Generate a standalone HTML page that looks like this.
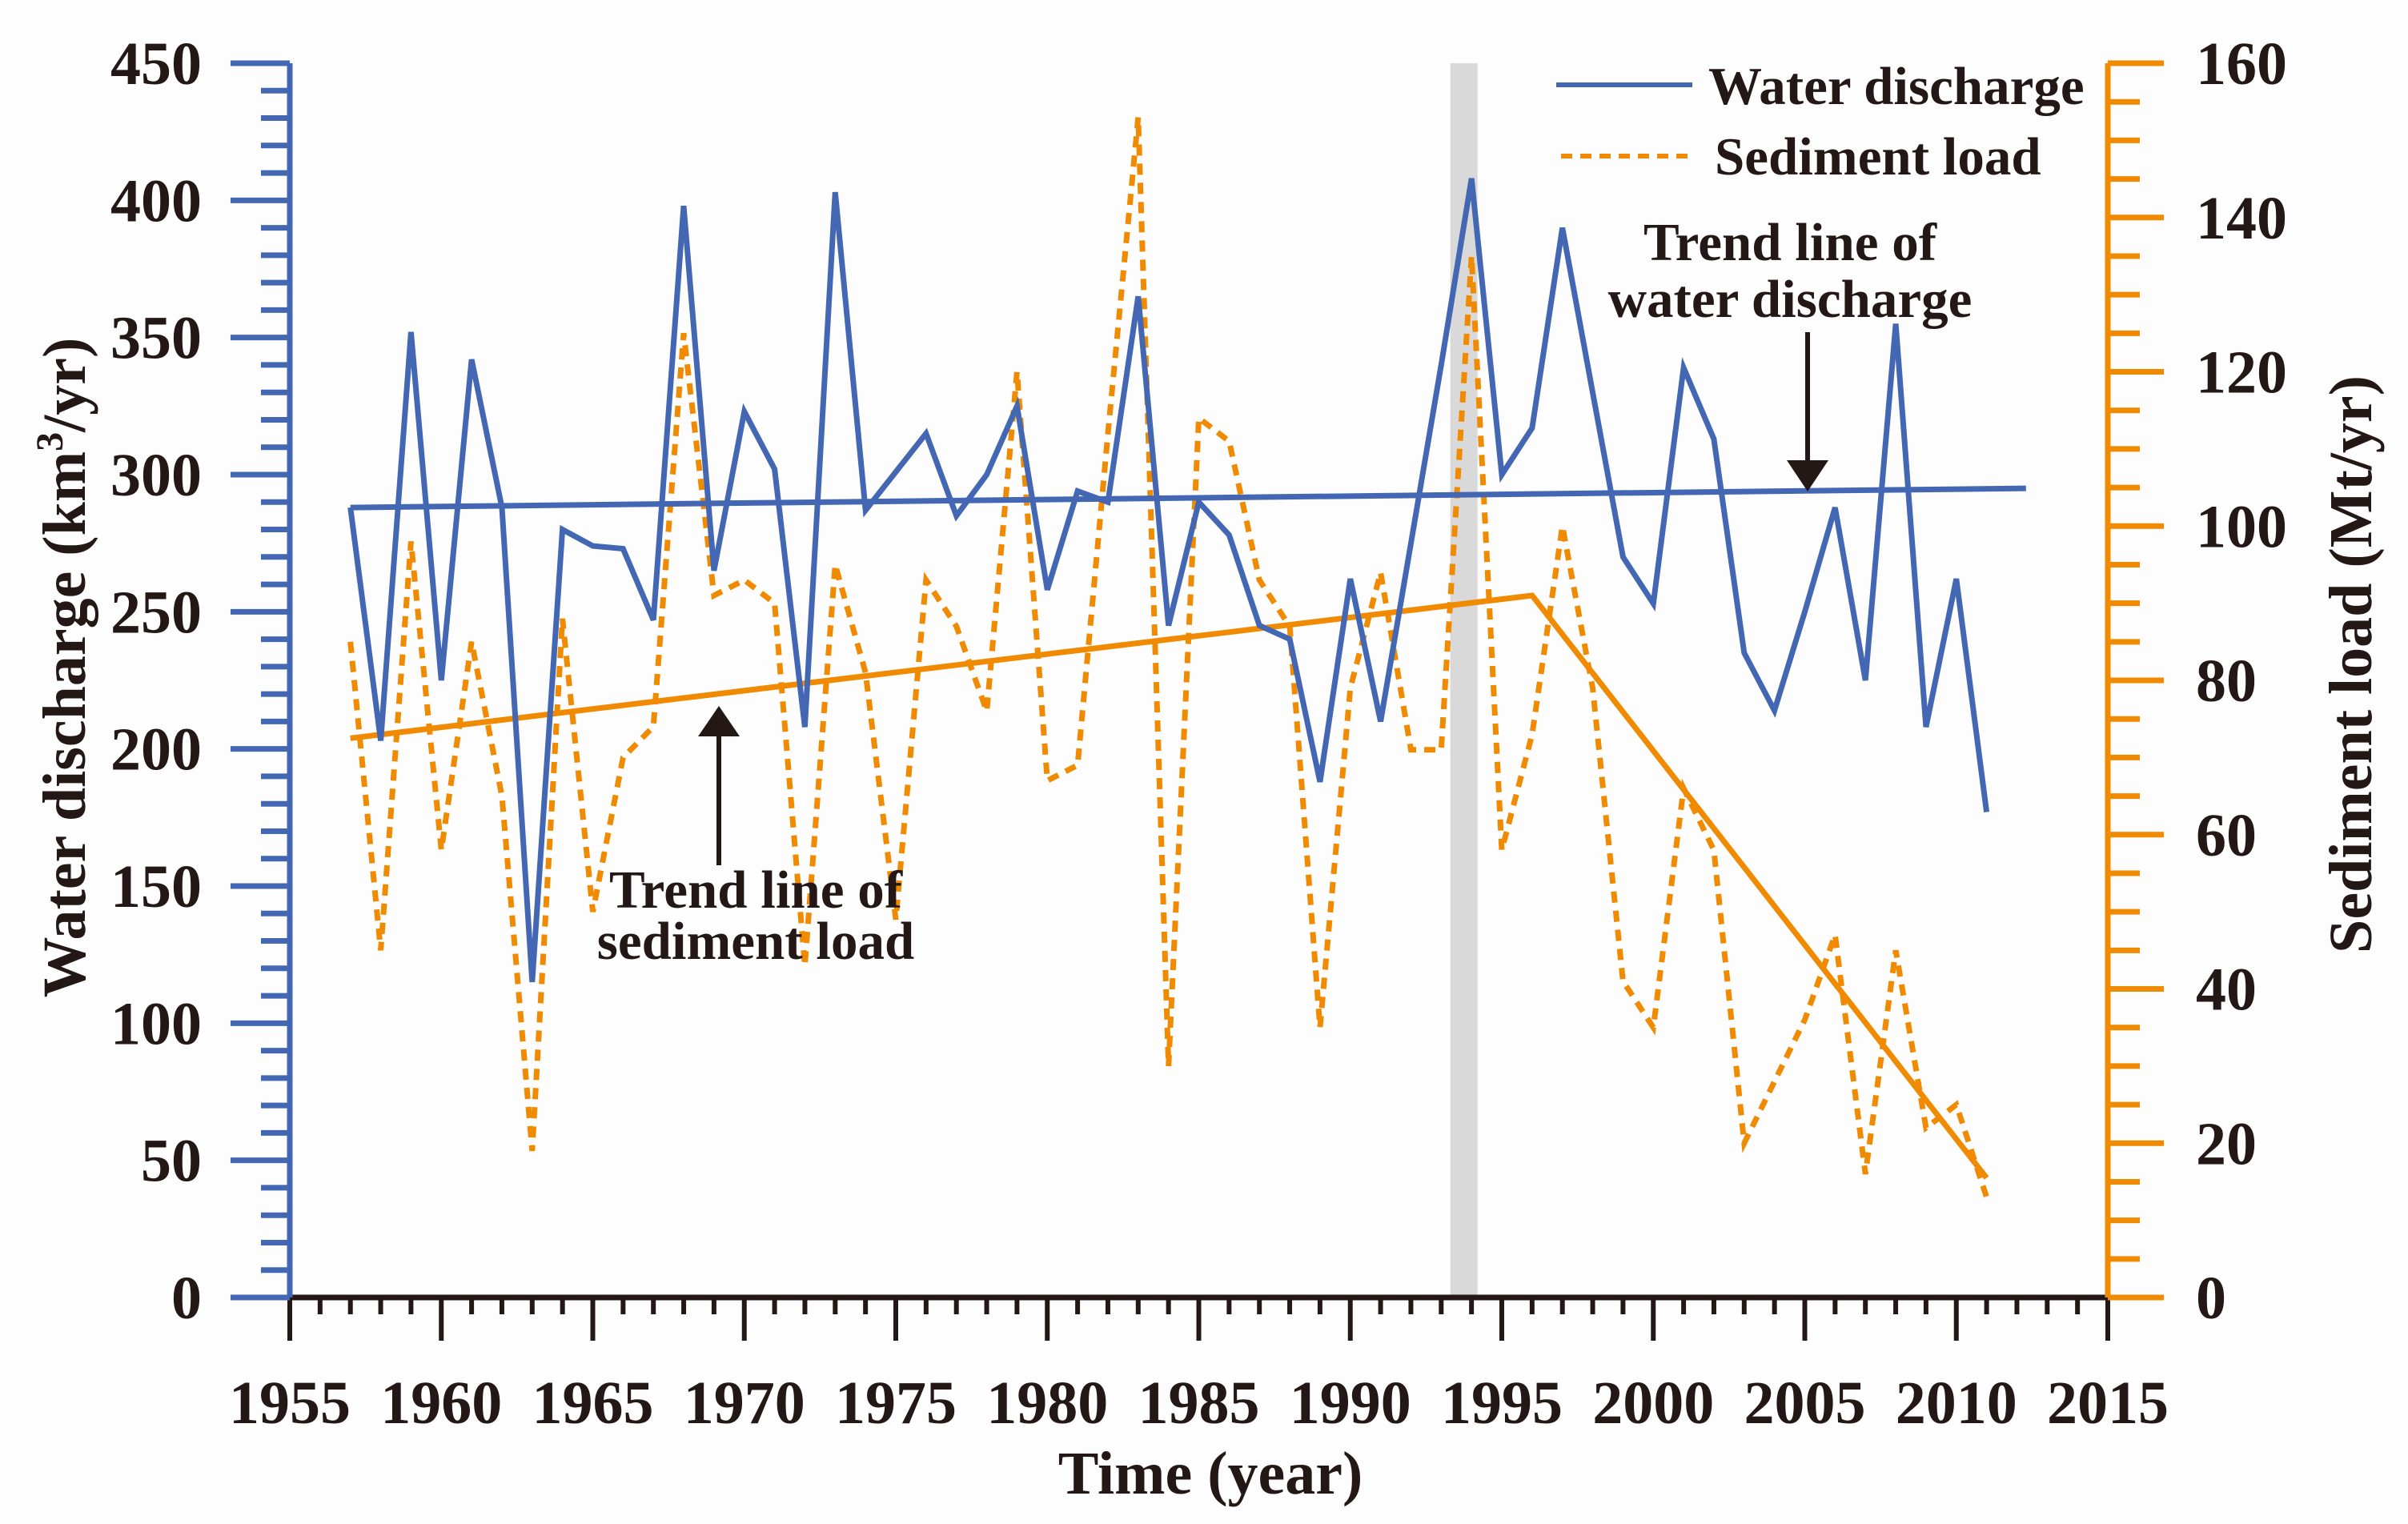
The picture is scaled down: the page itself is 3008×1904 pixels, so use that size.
<!DOCTYPE html>
<html><head><meta charset="utf-8"><style>
html,body{margin:0;padding:0;background:#fdfdfd;}
svg{display:block;}
text{font-family:"Liberation Serif",serif;font-weight:bold;fill:#231815;}
</style></head><body>
<svg id="chart" width="3008" height="1904" viewBox="0 0 3008 1904" xmlns="http://www.w3.org/2000/svg">
<rect width="3008" height="1904" fill="#fdfdfd"/>
<g id="plot"></g>
</svg>
<script>
const years = [1957,1958,1959,1960,1961,1962,1963,1964,1965,1966,1967,1968,1969,1970,1971,1972,1973,1974,1975,1976,1977,1978,1979,1980,1981,1982,1983,1984,1985,1986,1987,1988,1989,1990,1991,1992,1993,1994,1995,1996,1997,1998,1999,2000,2001,2002,2003,2004,2005,2006,2007,2008,2009,2010,2011];
const waterDischarge = [288,203,352,225,342,288,115,280,274,273,247,398,265,323,302,208,403,287,301,315,285,300,325,258,294,290,365,245,290,278,245,240,188,262,210,275,340,408,300,317,390,330,270,253,339,313,235,214,250,288,225,355,208,262,177];
const sedimentLoad = [85,45,98,58,85,65,19,88,50,70,74,125,91,93,90,43,95,81,49,93,87,76,120,67,69,112,153,30,114,111,93,87,35,79,94,71,71,135,58,73,100,79,41,35,66,58,20,28,36,47,16,45,22,25,13];
const waterTrendYears = [1957,2012.3];
const waterTrendValues = [288,295];
const sedTrendYears = [1957,1996,2011];
const sedTrendValues = [72.5,91,15.5];
const leftTicks = [0,50,100,150,200,250,300,350,400,450];
const rightTicks = [0,20,40,60,80,100,120,140,160];
const xTicks = [1955,1960,1965,1970,1975,1980,1985,1990,1995,2000,2005,2010,2015];
const bandYears = [1993.3,1994.2];

const X0=362,X1=2633,Y0=1621,YT=79;
const BLUE="#4467b4",ORANGE="#f08a00",INK="#231815";
const xs=y=>X0+(y-1955)/60*(X1-X0);
const yl=v=>Y0-v/450*(Y0-YT);
const yr=v=>Y0-v/160*(Y0-YT);
const NS="http://www.w3.org/2000/svg";
const g=document.getElementById('plot');
function mk(tag,attrs,parent){const e=document.createElementNS(NS,tag);for(const k in attrs)e.setAttribute(k,attrs[k]);(parent||g).appendChild(e);return e;}

let band=mk('rect',{x:xs(bandYears[0]),y:YT,width:xs(bandYears[1])-xs(bandYears[0]),height:Y0-YT,fill:'#d9d9d9'});



function pts(xa,ya,f){return xa.map((x,i)=>xs(x).toFixed(1)+','+f(ya[i]).toFixed(1)).join(' ');}
let sed=mk('polyline',{points:pts(years,sedimentLoad,yr),fill:'none',stroke:ORANGE,'stroke-width':7,'stroke-dasharray':'14 10','stroke-linejoin':'miter'});


let st=mk('polyline',{points:pts(sedTrendYears,sedTrendValues,yr),fill:'none',stroke:ORANGE,'stroke-width':7});


let wd=mk('polyline',{points:pts(years,waterDischarge,yl),fill:'none',stroke:BLUE,'stroke-width':7,'stroke-linejoin':'miter'});


let wt=mk('polyline',{points:pts(waterTrendYears,waterTrendValues,yl),fill:'none',stroke:BLUE,'stroke-width':7});



let xa=mk('line',{x1:X0,y1:Y0,x2:X1,y2:Y0,stroke:INK,'stroke-width':7});


for(let y=1955;y<=2015;y++){
  const major=(y%5===0);
  let t=mk('line',{x1:xs(y),y1:Y0,x2:xs(y),y2:major?Y0+54:Y0+21,stroke:INK,'stroke-width':6});
  
  
}
xTicks.forEach(v=>{
  let t=mk('text',{x:xs(v),y:1778,'text-anchor':'middle','font-size':76});
  t.textContent=v;
  
  
});

let la=mk('line',{x1:X0,y1:YT,x2:X0,y2:Y0,stroke:BLUE,'stroke-width':7});


for(let v=0;v<=450;v+=10){
  const major=(v%50===0);
  let t=mk('line',{x1:major?288:326,y1:yl(v),x2:X0,y2:yl(v),stroke:BLUE,'stroke-width':7});
  
  
}
leftTicks.forEach(v=>{
  let t=mk('text',{x:252,y:yl(v)+26,'text-anchor':'end','font-size':76});
  t.textContent=v;
  
  
});

let ra=mk('line',{x1:X1,y1:YT,x2:X1,y2:Y0,stroke:ORANGE,'stroke-width':7});


for(let v=0;v<=160;v+=5){
  const major=(v%20===0);
  let t=mk('line',{x1:X1,y1:yr(v),x2:major?2703:2673,y2:yr(v),stroke:ORANGE,'stroke-width':7});
  
  
}
rightTicks.forEach(v=>{
  let t=mk('text',{x:2743,y:yr(v)+26,'text-anchor':'start','font-size':76});
  t.textContent=v;
  
  
});
</script>
<svg style="position:absolute;left:0;top:0" width="3008" height="1904" viewBox="0 0 3008 1904" xmlns="http://www.w3.org/2000/svg">
<text x="1512" y="1866" text-anchor="middle" font-size="76">Time (year)</text>
<text transform="translate(106,834) rotate(-90)" text-anchor="middle" font-size="76">Water discharge (km<tspan dy="-28" font-size="48">3</tspan><tspan dy="28">/yr)</tspan></text>
<text transform="translate(2962,830) rotate(-90)" text-anchor="middle" font-size="76">Sediment load (Mt/yr)</text>
<g>
<line x1="1944" y1="106" x2="2114" y2="106" stroke="#4467b4" stroke-width="6"/>
<text x="2134" y="130" font-size="67">Water discharge</text>
<line x1="1950" y1="195" x2="2114" y2="195" stroke="#f08a00" stroke-width="6" stroke-dasharray="14 10"/>
<text x="2142" y="218" font-size="67">Sediment load</text>
</g>
<g>
<text x="2236" y="325" text-anchor="middle" font-size="67">Trend line of</text>
<text x="2236" y="396" text-anchor="middle" font-size="67">water discharge</text>
<line x1="2258" y1="415" x2="2258" y2="580" stroke="#231815" stroke-width="6"/>
<polygon points="2232,575 2284,575 2258,614" fill="#231815"/>
</g>
<g>
<line x1="898" y1="1081" x2="898" y2="915" stroke="#231815" stroke-width="6"/>
<polygon points="872,920 924,920 898,882" fill="#231815"/>
<text x="944" y="1134" text-anchor="middle" font-size="67">Trend line of</text>
<text x="944" y="1198" text-anchor="middle" font-size="67">sediment load</text>
</g>
</svg>
</body></html>
